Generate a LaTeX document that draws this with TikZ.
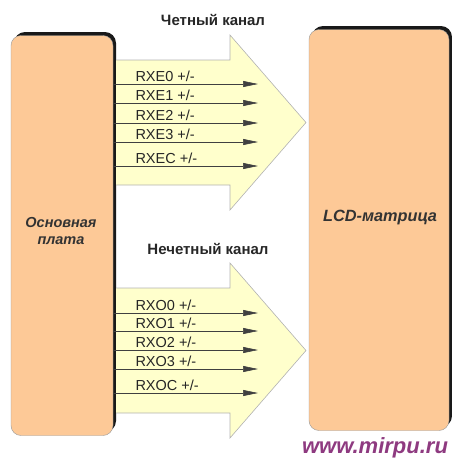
\documentclass[tikz,border=0pt]{standalone}
\usepackage{fontspec}
\setmainfont{Liberation Sans}
\usetikzlibrary{arrows.meta, positioning}
\definecolor{peach}{HTML}{FDC997}
\definecolor{busyellow}{HTML}{FFFFCC}
\definecolor{sitepurple}{HTML}{8E3A80}
\tikzstyle{board} = [rectangle, rounded corners=10pt, draw=black!40, fill=peach, inner sep=0pt]
\tikzstyle{boardshadow} = [fill=black!90, rounded corners=11pt]
\tikzstyle{bus} = [draw=black!30, fill=busyellow, line width=0.6pt]
\tikzstyle{signal} = [draw=black!75, line width=0.6pt, -{Triangle[length=15pt,width=6pt]}]
\tikzstyle{siglabel} = [at start, anchor=base west, xshift=22pt, yshift=3pt, inner sep=0pt, font=\fontsize{14.5}{14.5}\selectfont, text=black!85]
\tikzstyle{channel} = [font=\fontsize{15}{15}\selectfont\bfseries, text=black!85]
\tikzstyle{boxtext} = [font=\fontsize{14.5}{17}\selectfont\bfseries\itshape, text=black!80, align=center]

\begin{document}
\begin{tikzpicture}[x=1pt, y=-1pt]
  \useasboundingbox (0,0) rectangle (452,459);

  \path[boardshadow] (14,32) rectangle (116,432);
  \path[boardshadow] (312,26) rectangle (452,427);

  \path[bus] (116,60) -- (230,60) -- (230,35) -- (306,122.5) -- (230,210) -- (230,185) -- (116,185);
  \path[bus] (116,288) -- (230,288) -- (230,263) -- (306,350.5) -- (230,438) -- (230,413) -- (116,413);

  \node[board, minimum width=102pt, minimum height=400pt] (mainboard) at (62,235.5) {};
  \node[board, minimum width=140pt, minimum height=401pt] (lcd) at (379,230) {};

  \node[boxtext] (mainlabel) at (61,231) {Основная\\плата};
  \node[boxtext, font=\fontsize{16.3}{17}\selectfont\bfseries\itshape] (lcdlabel) at (380,217) {LCD-матрица};
  \node[channel] (evenlabel) at (213,20) {Четный канал};
  \node[channel] (oddlabel) at (208,249) {Нечетный канал};
  \node[font=\fontsize{22}{22}\selectfont\bfseries\itshape, text=sitepurple] (site) at (375,448) {www.mirpu.ru};

  \coordinate (e0) at (258,84);
  \coordinate (e1) at (258,103);
  \coordinate (e2) at (258,123);
  \coordinate (e3) at (258,142);
  \coordinate (ec) at (258,166);
  \coordinate (o0) at (258,313);
  \coordinate (o1) at (258,331);
  \coordinate (o2) at (258,350);
  \coordinate (o3) at (258,369);
  \coordinate (oc) at (258,393);

  \draw[signal] (mainboard.east |- e0) -- node[siglabel]{RXE0 +/-} (e0);
  \draw[signal] (mainboard.east |- e1) -- node[siglabel]{RXE1 +/-} (e1);
  \draw[signal] (mainboard.east |- e2) -- node[siglabel]{RXE2 +/-} (e2);
  \draw[signal] (mainboard.east |- e3) -- node[siglabel]{RXE3 +/-} (e3);
  \draw[signal] (mainboard.east |- ec) -- node[siglabel]{RXEC +/-} (ec);
  \draw[signal] (mainboard.east |- o0) -- node[siglabel]{RXO0 +/-} (o0);
  \draw[signal] (mainboard.east |- o1) -- node[siglabel]{RXO1 +/-} (o1);
  \draw[signal] (mainboard.east |- o2) -- node[siglabel]{RXO2 +/-} (o2);
  \draw[signal] (mainboard.east |- o3) -- node[siglabel]{RXO3 +/-} (o3);
  \draw[signal] (mainboard.east |- oc) -- node[siglabel]{RXOC +/-} (oc);
\end{tikzpicture}
\end{document}
